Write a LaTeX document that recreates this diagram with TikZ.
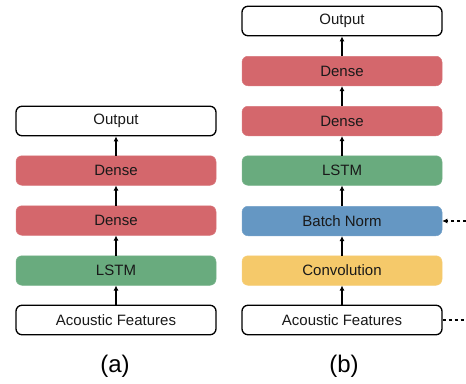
\documentclass[tikz,border=0pt]{standalone}
\usepackage{fontspec}
\setmainfont{Liberation Sans}
\usetikzlibrary{arrows.meta}
\definecolor{cred}{HTML}{D4676C}
\definecolor{cgreen}{HTML}{69AB7E}
\definecolor{cblue}{HTML}{6597C3}
\definecolor{cyellow}{HTML}{F5C96A}
\begin{document}
\begin{tikzpicture}[x=1pt,y=-1pt,
  layer/.style={rounded corners=6pt, minimum width=200pt, minimum height=29.5pt, inner sep=0pt, font=\fontsize{15}{17}\selectfont, text=black!90},
  wbox/.style={layer, draw=black, line width=1.3pt, fill=white},
  cbox/.style={layer, draw=#1!90!white, line width=0.5pt, fill=#1},
  arr/.style={-{Latex[length=5pt,width=5pt]}, line width=1.2pt},
  darr/.style={line width=1.1pt, dash pattern=on 3pt off 3pt}
]
\useasboundingbox (0,0) rectangle (466,383);
% (a)
\node[wbox] (a0) at (116,320) {Acoustic Features};
\node[cbox=cgreen] (a1) at (116,270.5) {LSTM};
\node[cbox=cred] (a2) at (116,220.5) {Dense};
\node[cbox=cred] (a3) at (116,170.5) {Dense};
\node[wbox] (a4) at (116,121) {Output};
\draw[arr] (a0) -- (a1);
\draw[arr] (a1) -- (a2);
\draw[arr] (a2) -- (a3);
\draw[arr] (a3) -- (a4);
% (b)
\node[wbox] (b0) at (342,320) {Acoustic Features};
\node[cbox=cyellow] (b1) at (342,270.5) {Convolution};
\node[cbox=cblue] (b2) at (342,221) {Batch Norm};
\node[cbox=cgreen] (b3) at (342,170.5) {LSTM};
\node[cbox=cred] (b4) at (342,121) {Dense};
\node[cbox=cred] (b5) at (342,71) {Dense};
\node[wbox] (b6) at (342,21) {Output};
\draw[arr] (b0) -- (b1);
\draw[arr] (b1) -- (b2);
\draw[arr] (b2) -- (b3);
\draw[arr] (b3) -- (b4);
\draw[arr] (b4) -- (b5);
\draw[arr] (b5) -- (b6);
\coordinate (e1) at (466,221);
\coordinate (e2) at (466,320);
\draw[darr, -{Latex[length=5pt,width=5pt]}] (e1) -- (b2.east);
\draw[darr] (b0.east) -- (e2);
\node[font=\fontsize{24}{28}\selectfont] (la) at (115,366) {(a)};
\node[font=\fontsize{24}{28}\selectfont] (lb) at (344,366) {(b)};
\end{tikzpicture}
\end{document}
